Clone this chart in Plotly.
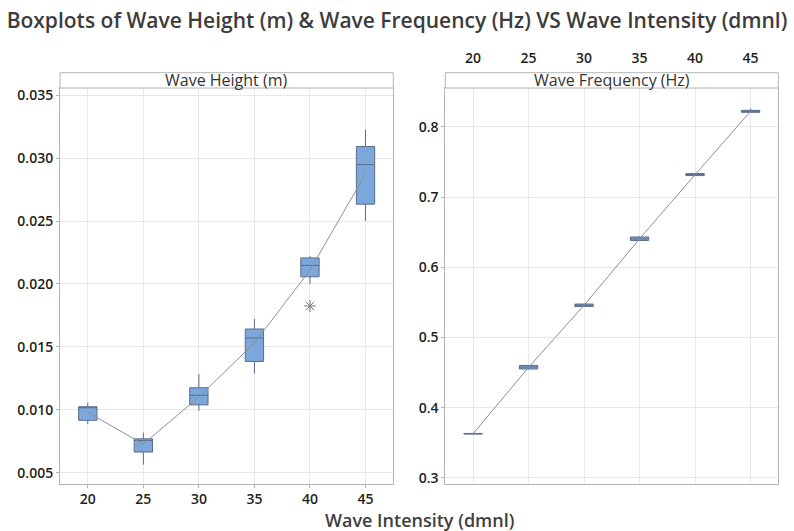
import plotly.graph_objects as go

# ---------------- data ----------------
intensity = [20, 25, 30, 35, 40, 45]

height_low = [0.00887, 0.00564, 0.00992, 0.01288, 0.02000, 0.02500]
height_q1 = [0.00916, 0.00664, 0.01039, 0.01384, 0.02057, 0.02634]
height_median = [0.01018, 0.00756, 0.01115, 0.01571, 0.02147, 0.02948]
height_q3 = [0.01024, 0.00769, 0.01175, 0.01642, 0.02207, 0.03092]
height_high = [0.01055, 0.00819, 0.01285, 0.01722, 0.02222, 0.03226]
height_mean = [0.00979, 0.00727, 0.01102, 0.01531, 0.02110, 0.02874]
height_outlier_x = [40]
height_outlier_y = [0.01825]

freq_low = [0.3622, 0.4545, 0.5438, 0.6378, 0.7303, 0.8203]
freq_q1 = [0.3626, 0.4552, 0.5443, 0.6383, 0.7307, 0.8208]
freq_median = [0.3630, 0.4580, 0.5460, 0.6405, 0.7320, 0.8222]
freq_q3 = [0.3634, 0.4603, 0.5477, 0.6433, 0.7335, 0.8236]
freq_high = [0.3638, 0.4608, 0.5482, 0.6440, 0.7340, 0.8262]
freq_mean = [0.3630, 0.4575, 0.5460, 0.6405, 0.7320, 0.8222]

x_ticks = [20, 25, 30, 35, 40, 45]
height_ticks = [0.005, 0.010, 0.015, 0.020, 0.025, 0.030, 0.035]
freq_ticks = [0.3, 0.4, 0.5, 0.6, 0.7, 0.8]

title_text = "Boxplots of Wave Height (m) & Wave Frequency (Hz) VS Wave Intensity (dmnl)"
panel_titles = ["Wave Height (m)", "Wave Frequency (Hz)"]
x_title = "Wave Intensity (dmnl)"

# ---------------- styling ----------------
W, H = 794, 531
FONT = "Open Sans"
BOX_FILL = "#7ba7db"
BOX_LINE = "#5a6d8a"
GRID = "#e8e8e8"
FRAME = "#b4b4b4"

left_dom = [60 / W, 393.3 / W]
right_dom = [445.3 / W, 778.3 / W]
y_dom = [1 - 486 / H, 1 - 86 / H]
strip_top = 1 - 70.5 / H

fig = go.Figure()

fig.add_trace(go.Box(
    x=intensity, q1=height_q1, median=height_median, q3=height_q3,
    lowerfence=height_low, upperfence=height_high,
    boxpoints=False, width=1.65, whiskerwidth=0,
    fillcolor=BOX_FILL, line=dict(color=BOX_LINE, width=1),
    xaxis="x", yaxis="y", showlegend=False, hoverinfo="skip"))
fig.add_trace(go.Scatter(
    x=intensity, y=height_mean, mode="lines",
    line=dict(color="#8f8f8f", width=1), xaxis="x", yaxis="y",
    showlegend=False, hoverinfo="skip"))
fig.add_trace(go.Scatter(
    x=height_outlier_x, y=height_outlier_y, mode="markers",
    marker=dict(symbol="asterisk-open", size=10, color="#7a7a7a",
                line=dict(color="#7a7a7a", width=1)),
    xaxis="x", yaxis="y", showlegend=False, hoverinfo="skip"))

fig.add_trace(go.Box(
    x=intensity, q1=freq_q1, median=freq_median, q3=freq_q3,
    lowerfence=freq_low, upperfence=freq_high,
    boxpoints=False, width=1.65, whiskerwidth=0,
    fillcolor=BOX_FILL, line=dict(color=BOX_LINE, width=1),
    xaxis="x2", yaxis="y2", showlegend=False, hoverinfo="skip"))
fig.add_trace(go.Scatter(
    x=intensity, y=freq_mean, mode="lines",
    line=dict(color="#8f8f8f", width=1), xaxis="x2", yaxis="y2",
    showlegend=False, hoverinfo="skip"))

axis_common = dict(
    showgrid=True, gridcolor=GRID, gridwidth=1,
    showline=True, linecolor=FRAME, linewidth=1, mirror=True,
    ticks="outside", ticklen=3, tickcolor=FRAME,
    tickfont=dict(family=FONT, size=14, color="#1f1f1f", weight=600),
    zeroline=False,
)

fig.update_layout(
    width=W, height=H,
    margin=dict(l=0, r=0, t=0, b=0),
    paper_bgcolor="white", plot_bgcolor="white",
    font=dict(family=FONT),
    title=dict(text=title_text, x=0.5, xanchor="center", y=1 - 21 / H, yanchor="middle",
               font=dict(family=FONT, size=21, color="#3c3c3c", weight=600)),
    xaxis=dict(domain=left_dom, range=[17.5, 47.5], tickvals=x_ticks, anchor="y", **axis_common),
    yaxis=dict(domain=y_dom, range=[0.00414, 0.03557], tickvals=height_ticks,
               tickformat=".3f", anchor="x", **axis_common),
    xaxis2=dict(domain=right_dom, range=[17.5, 47.5], tickvals=x_ticks, anchor="y2",
                side="top", ticklabelstandoff=18, **axis_common),
    yaxis2=dict(domain=y_dom, range=[0.2921, 0.8554], tickvals=freq_ticks,
                tickformat=".1f", anchor="x2", **axis_common),
    boxgap=0, boxgroupgap=0,
)
fig.update_xaxes(ticks="", selector=dict(side="top"))

shapes = []
annotations = []
for dom, txt in zip([left_dom, right_dom], panel_titles):
    shapes.append(dict(type="rect", xref="paper", yref="paper",
                       x0=dom[0], x1=dom[1], y0=y_dom[1], y1=strip_top,
                       line=dict(color=FRAME, width=1), fillcolor="white", layer="above"))
    annotations.append(dict(text=txt, xref="paper", yref="paper",
                            x=(dom[0] + dom[1]) / 2, y=(y_dom[1] + strip_top) / 2,
                            xanchor="center", yanchor="middle", showarrow=False,
                            font=dict(family=FONT, size=16, color="#333333")))
annotations.append(dict(text=x_title, xref="paper", yref="paper",
                        x=419 / W, y=1 - 523 / H, xanchor="center", yanchor="middle",
                        showarrow=False,
                        font=dict(family=FONT, size=18, color="#404040", weight=600)))
fig.update_layout(shapes=shapes, annotations=annotations)

fig.write_html("out.html")
